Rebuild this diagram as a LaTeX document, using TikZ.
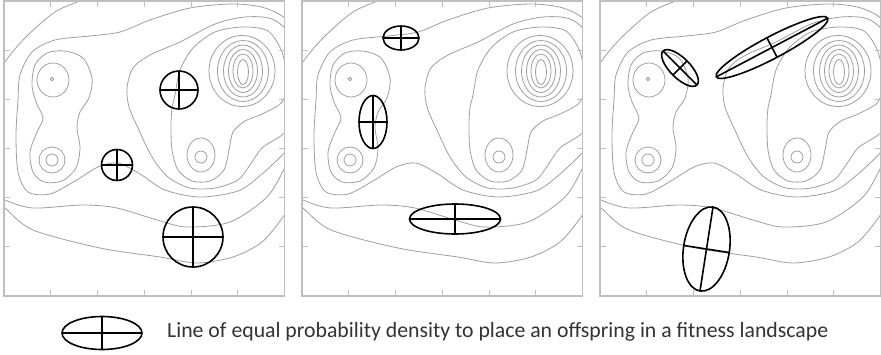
\documentclass[tikz,border=0pt]{standalone}
\usepackage{fontspec}
\setmainfont{Carlito}
\usepackage{graphicx}
\tikzset{
  frameline/.style={draw=gray!50, line width=1.2pt},
  tickline/.style={draw=gray!50, line width=1pt},
  contour/.style={draw=gray!75, line width=0.8pt},
  ell/.style={draw=black, line width=1.6pt},
}
\newcommand{\fitnesscontours}{%
  % left group
  \draw[contour] (52,-79) circle[radius=1.8pt];
  \draw[contour] (53,-80) ellipse[x radius=16pt, y radius=17pt];
  \draw[contour] (52,-160) circle[radius=6pt];
  \draw[contour] (52,-160) circle[radius=13pt];
  \draw[contour] plot[smooth cycle] coordinates {(32,-85)(35,-65)(47,-53)(65,-51)(83,-58)(92,-78)(89,-98)(80,-112)(77,-128)(80,-148)(76,-168)(62,-181)(44,-182)(33,-172)(30,-152)(37,-132)(43,-118)(36,-102)};
  % right group
  \draw[contour] (201,-157) circle[radius=6pt];
  \draw[contour] (201,-155) ellipse[x radius=14pt, y radius=17pt];
  \draw[contour] (243,-72) ellipse[x radius=5.5pt, y radius=12.5pt];
  \draw[contour] (243,-71) ellipse[x radius=10pt, y radius=17pt];
  \draw[contour] (243,-71) ellipse[x radius=14.5pt, y radius=21.5pt];
  \draw[contour] (243,-71) ellipse[x radius=19.5pt, y radius=26pt];
  \draw[contour] (243,-71) ellipse[x radius=25.5pt, y radius=30.5pt];
  \draw[contour] (242,-71) ellipse[x radius=33pt, y radius=35.5pt];
  \draw[contour] plot[smooth cycle] coordinates {(175,-95)(180,-70)(193,-48)(215,-32)(243,-27)(268,-31)(282,-52)(287,-80)(282,-102)(262,-114)(245,-121)(233,-132)(229,-150)(224,-170)(210,-181)(192,-181)(178,-170)(172,-150)(171,-125)(172,-108)};
  \draw[contour] plot[smooth cycle] coordinates {(127,-88)(133,-68)(150,-55)(180,-42)(215,-24)(245,-17)(272,-19)(290,-36)(298,-80)(295,-120)(282,-135)(262,-148)(250,-165)(238,-180)(215,-188)(190,-188)(168,-177)(152,-157)(138,-128)(129,-107)};
  % global contours
  \draw[contour] plot[smooth cycle] coordinates {(18,-100)(20,-75)(32,-52)(55,-40)(90,-36)(120,-32)(150,-20)(190,-8)(233,-4)(265,-8)(288,-22)(300,-60)(302,-130)(285,-152)(262,-174)(238,-191)(200,-197)(165,-190)(140,-174)(118,-163)(98,-167)(75,-181)(50,-194)(28,-192)(18,-172)(16,-135)};
  \draw[contour] plot[smooth] coordinates {(100,8)(82,0)(55,-12)(28,-35)(10,-55)(-4,-75)};
  \draw[contour] plot[smooth] coordinates {(-4,-193)(5,-200)(33,-208)(83,-205)(117,-208)(157,-220)(187,-227)(230,-222)(267,-197)(285,-167)(293,-148)};
  \draw[contour] plot[smooth] coordinates {(-4,-201)(5,-208)(33,-230)(100,-248)(160,-257)(197,-263)(233,-257)(262,-242)(283,-217)(293,-200)};
}
\newcommand{\fitpanel}[1]{%
  \begin{scope}[xshift=#1pt]
    \begin{scope}
      \clip (4,-1) rectangle (284.5,-296);
      \fitnesscontours
    \end{scope}
    \draw[frameline] (4,-1) rectangle (284.5,-296);
    \foreach \k in {1,...,5} {
      \draw[tickline] ({4+\k*280.5/6},-1) -- ++(0,-6);
      \draw[tickline] ({4+\k*280.5/6},-296) -- ++(0,6);
      \draw[tickline] (4,{-1-\k*295/6}) -- ++(6,0);
      \draw[tickline] (284.5,{-1-\k*295/6}) -- ++(-6,0);
    }
  \end{scope}}
\newcommand{\offspring}[5]{%
  \begin{scope}[shift={(#1,#2)}, rotate=#5]
    \draw[ell] (0,0) ellipse[x radius=#3pt, y radius=#4pt];
    \draw[ell] (-#3,0) -- (#3,0);
    \draw[ell] (0,-#4) -- (0,#4);
  \end{scope}}
\begin{document}
\begin{tikzpicture}[x=1pt, y=1pt]
  \useasboundingbox (0,0) rectangle (881,-354);
  \fill[white] (0,0) rectangle (881,-354);
  \fitpanel{0}
  \fitpanel{298}
  \fitpanel{596}
  % panel 1
  \offspring{179}{-90}{19}{19}{0}
  \offspring{117}{-165}{15.5}{15.5}{0}
  \offspring{193}{-237}{30}{30}{0}
  % panel 2
  \offspring{401}{-38}{18}{12}{0}
  \offspring{373}{-122}{14}{26.5}{0}
  \offspring{455}{-219}{45.5}{15}{0}
  % panel 3
  \offspring{680}{-68}{24}{10}{-45}
  \offspring{772}{-47.5}{63}{11}{27.8}
  \offspring{706.5}{-249}{23}{42.5}{-8.8}
  % legend
  \offspring{102}{-333}{40}{16.5}{0}
  \node[anchor=base west, inner sep=0pt, text=black!80] (legendtext) at (167,-337.5)
    {\resizebox{661pt}{!}{Line of equal probability density to place an offspring in a fitness landscape}};
\end{tikzpicture}
\end{document}
